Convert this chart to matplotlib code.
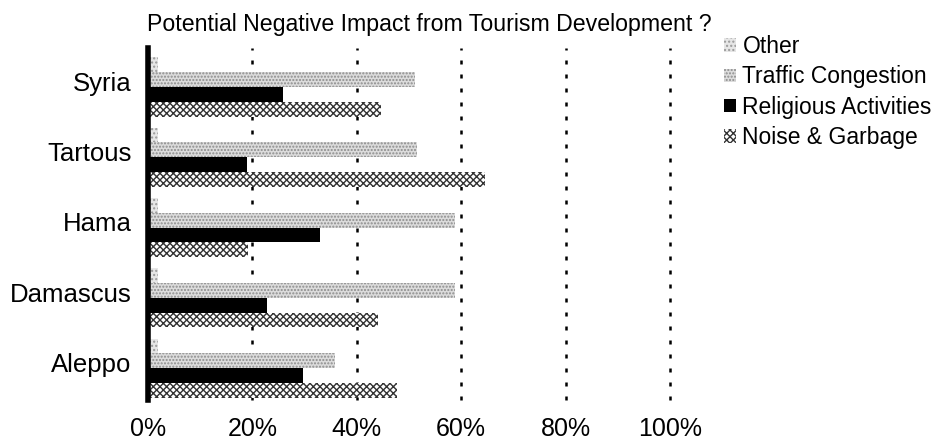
import matplotlib
matplotlib.use("Agg")
import matplotlib.pyplot as plt
from matplotlib.patches import Patch
import numpy as np

plt.rcParams['font.family'] = ['Liberation Sans', 'DejaVu Sans']
plt.rcParams['hatch.linewidth'] = 1.0

# Survey results (% of respondents), listed bottom to top as drawn
regions = ["Aleppo", "Damascus", "Hama", "Tartous", "Syria"]
series_names = ["Other", "Traffic Congestion", "Religious Activities", "Noise & Garbage"]
other = [2, 2, 2, 2, 2]
traffic = [35.8, 58.8, 58.8, 51.5, 51.1]
religious = [29.7, 22.8, 33.0, 19.0, 25.9]
noise = [47.7, 44.1, 19.2, 64.6, 44.6]
x_ticks = [0, 20, 40, 60, 80, 100]
x_tick_labels = ["0%", "20%", "40%", "60%", "80%", "100%"]
title = "Potential Negative Impact from Tourism Development ?"

W, H = 943, 444
fig = plt.figure(figsize=(W / 100, H / 100), dpi=100)
fig.patch.set_facecolor("white")

# plot area: x 148..670 px, y 48..400 px (from top)
ax = fig.add_axes([148 / W, (H - 400) / H, 522 / W, 352 / H])

styles = [
    dict(facecolor="#e6e6e6", edgecolor="#9a9a9a", hatch="...."),     # Other
    dict(facecolor="#dcdcdc", edgecolor="#8c8c8c", hatch="....."),    # Traffic
    dict(facecolor="black", edgecolor="black", hatch=None),           # Religious
    dict(facecolor="white", edgecolor="#333333", hatch="xxxxx"),      # Noise
]
values = [other, traffic, religious, noise]

y = np.arange(len(regions))
h = 0.21
offsets = [1.5 * h, 0.5 * h, -0.5 * h, -1.5 * h]
for vals, off, st in zip(values, offsets, styles):
    ax.barh(y + off, vals, height=h, linewidth=0, **st)

ax.set_xlim(0, 100)
ax.set_ylim(-0.455, 4.555)

for xv in x_ticks[1:]:
    ax.axvline(xv, color="black", linewidth=1.8, linestyle=(0, (1.6, 4)),
               zorder=0, clip_on=False)

ax.set_xticks(x_ticks)
ax.set_xticklabels(x_tick_labels, fontsize=18)
ax.tick_params(axis="x", length=0, pad=12)
ax.set_yticks(y + 0.08)
ax.set_yticklabels(regions, fontsize=18.5)
ax.tick_params(axis="y", length=0, pad=12)

for s in ["top", "right", "bottom"]:
    ax.spines[s].set_visible(False)
ax.spines["left"].set_linewidth(4)
ax.spines["left"].set_color("black")

fig.text(147 / W, 1 - 24 / H, title, fontsize=16.7, ha="left", va="center")

handles = [Patch(linewidth=0, **st) for st in styles]
fig.legend(handles, series_names, loc="upper left",
           bbox_to_anchor=(715 / W, 1 - 26 / H), frameon=False, fontsize=16.5,
           handlelength=0.5, handleheight=0.5, handletextpad=0.3,
           labelspacing=0.32, borderaxespad=0)

fig.savefig("out.png", dpi=100)
